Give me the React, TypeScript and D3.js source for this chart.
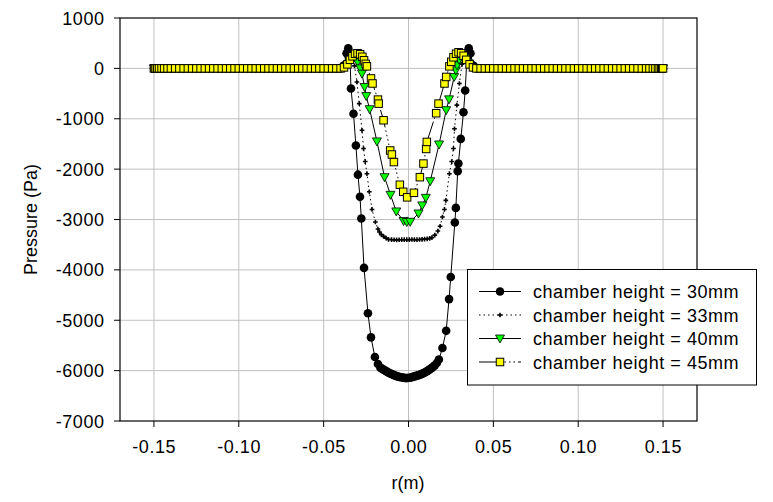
import React from 'react';
import * as d3 from 'd3';

// ---- data ----
const flatLeftR = [-0.1500,-0.1495,-0.1490,-0.1480,-0.1470,-0.1455,-0.1440,-0.1420,-0.1400,-0.1375,-0.1350,-0.1325,-0.1300,-0.1275,-0.1250,-0.1225,-0.1200,-0.1175,-0.1150,-0.1125,-0.1100,-0.1075,-0.1050,-0.1025,-0.1000,-0.0975,-0.0950,-0.0925,-0.0900,-0.0875,-0.0850,-0.0825,-0.0800,-0.0775,-0.0750,-0.0725,-0.0700,-0.0675,-0.0650,-0.0625,-0.0600,-0.0575,-0.0550,-0.0525,-0.0500,-0.0475,-0.0450,-0.0425,-0.0400];
const flatRightR = [0.0400,0.0425,0.0450,0.0475,0.0500,0.0525,0.0550,0.0575,0.0600,0.0625,0.0650,0.0675,0.0700,0.0725,0.0750,0.0775,0.0800,0.0825,0.0850,0.0875,0.0900,0.0925,0.0950,0.0975,0.1000,0.1025,0.1050,0.1075,0.1100,0.1125,0.1150,0.1175,0.1200,0.1225,0.1250,0.1275,0.1300,0.1325,0.1350,0.1375,0.1400,0.1420,0.1440,0.1455,0.1470,0.1480,0.1490,0.1495,0.1500];
const flatP = [0,0,0,0,0,0,0,0,0,0,0,0,0,0,0,0,0,0,0,0,0,0,0,0,0,0,0,0,0,0,0,0,0,0,0,0,0,0,0,0,0,0,0,0,0,0,0,0,0];

const r30 = [-0.0380,-0.0365,-0.0355,-0.0345,-0.0339,-0.0324,-0.0310,-0.0298,-0.0286,-0.0278,-0.0262,-0.0239,-0.0221,-0.0198,-0.0180,-0.0166,-0.0155,-0.0145,-0.0135,-0.0125,-0.0115,-0.0105,-0.0095,-0.0085,-0.0075,-0.0065,-0.0055,-0.0045,-0.0035,-0.0025,-0.0014,-0.0005,0.0005,0.0015,0.0025,0.0035,0.0045,0.0055,0.0065,0.0075,0.0085,0.0095,0.0105,0.0115,0.0125,0.0135,0.0145,0.0155,0.0167,0.0179,0.0200,0.0222,0.0239,0.0249,0.0273,0.0279,0.0290,0.0294,0.0308,0.0324,0.0334,0.0345,0.0355,0.0365,0.0380];
const p30 = [60,300,400,250,-400,-900,-1530,-2110,-2550,-2980,-3960,-4860,-5340,-5730,-5870,-5940,-5965,-5985,-6005,-6025,-6045,-6060,-6075,-6090,-6105,-6115,-6125,-6132,-6138,-6143,-6148,-6145,-6140,-6135,-6125,-6115,-6105,-6095,-6085,-6070,-6055,-6040,-6020,-6000,-5975,-5950,-5925,-5895,-5850,-5780,-5550,-5210,-4580,-4140,-3060,-2770,-2040,-1890,-1400,-870,-440,250,400,300,60];

const r33 = [-0.0380,-0.0360,-0.0345,-0.0330,-0.0318,-0.0304,-0.0290,-0.0274,-0.0265,-0.0255,-0.0245,-0.0231,-0.0215,-0.0195,-0.0180,-0.0171,-0.0160,-0.0147,-0.0132,-0.0118,-0.0100,-0.0085,-0.0070,-0.0055,-0.0040,-0.0025,-0.0010,0.0005,0.0020,0.0035,0.0050,0.0065,0.0080,0.0095,0.0110,0.0125,0.0138,0.0155,0.0173,0.0186,0.0200,0.0212,0.0220,0.0241,0.0255,0.0265,0.0271,0.0285,0.0300,0.0315,0.0330,0.0345,0.0360,0.0380];
const p33 = [40,200,330,250,50,-270,-700,-1230,-1590,-1850,-2090,-2450,-2800,-3050,-3190,-3250,-3300,-3335,-3370,-3395,-3400,-3402,-3405,-3402,-3400,-3400,-3400,-3400,-3398,-3400,-3400,-3398,-3395,-3390,-3385,-3375,-3360,-3310,-3230,-3135,-2950,-2800,-2620,-2090,-1850,-1590,-1200,-730,-300,80,280,330,200,40];

const r40 = [-0.0370,-0.0350,-0.0330,-0.0315,-0.0300,-0.0284,-0.0274,-0.0259,-0.0249,-0.0229,-0.0186,-0.0141,-0.0106,-0.0072,-0.0029,-0.0010,0.0010,0.0059,0.0081,0.0102,0.0128,0.0180,0.0222,0.0239,0.0269,0.0279,0.0286,0.0298,0.0315,0.0335,0.0355,0.0375];
const p40 = [30,150,230,220,125,0,-105,-370,-550,-810,-1450,-2160,-2510,-2840,-3030,-3050,-3045,-2880,-2720,-2570,-2240,-1510,-830,-615,-170,-40,60,170,240,200,100,20];

const r45 = [-0.0380,-0.0360,-0.0345,-0.0330,-0.0315,-0.0300,-0.0285,-0.0272,-0.0262,-0.0252,-0.0245,-0.0221,-0.0212,-0.0180,-0.0176,-0.0147,-0.0108,-0.0098,-0.0086,-0.0051,-0.0031,-0.0008,0.0032,0.0067,0.0088,0.0104,0.0108,0.0163,0.0177,0.0212,0.0222,0.0241,0.0252,0.0265,0.0280,0.0295,0.0310,0.0325,0.0340,0.0360,0.0380];
const p45 = [20,80,170,240,290,300,280,230,160,90,40,-200,-300,-620,-700,-1030,-1630,-1710,-1860,-2310,-2450,-2560,-2470,-2160,-1890,-1600,-1460,-890,-700,-300,-170,40,130,220,290,320,300,250,170,80,20];

const seriesNames = ['chamber height = 30mm', 'chamber height = 33mm', 'chamber height = 40mm', 'chamber height = 45mm'];
const xTicks = [-0.15, -0.10, -0.05, 0.0, 0.05, 0.10, 0.15];
const yTicks = [1000, 0, -1000, -2000, -3000, -4000, -5000, -6000, -7000];

type Pt = [number, number];
const build = (core: number[], vals: number[]): Pt[] => {
  const r = [...flatLeftR, ...core, ...flatRightR];
  const p = [...flatP, ...vals, ...flatP];
  return r.map((v, i) => [v, p[i]] as Pt);
};

const series = [
  { name: seriesNames[0], data: build(r30, p30), dash: undefined as string | undefined, marker: 'circle' },
  { name: seriesNames[1], data: build(r33, p33), dash: '1.5 3', marker: 'cross' },
  { name: seriesNames[2], data: build(r40, p40), dash: undefined, marker: 'tri' },
  { name: seriesNames[3], data: build(r45, p45), dash: '18 3 1.5 3 1.5 3 1.5 3 1.5 3', marker: 'square' },
];

const FONT = 'Arial, "Liberation Sans", sans-serif';

function Marker({ type, cx, cy }: { type: string; cx: number; cy: number }) {
  if (type === 'circle') return <circle cx={cx} cy={cy} r={4.3} fill="#000" />;
  if (type === 'cross') {
    const d = d3.symbol().type(d3.symbolCross).size(12)() as string;
    return <path d={d} transform={`translate(${cx},${cy})`} fill="#000" />;
  }
  if (type === 'tri')
    return <path d="M-4.5,-3.5L4.5,-3.5L0,4.5Z" transform={`translate(${cx},${cy})`} fill="#00ff00" stroke="#000" strokeWidth={0.8} />;
  return <rect x={cx - 3.75} y={cy - 3.75} width={7.5} height={7.5} fill="#ffff00" stroke="#000" strokeWidth={1} />;
}

export default function App() {
  const W = 773, H = 502;
  const left = 120, right = 697, top = 18, bottom = 421;
  const x = d3.scaleLinear().domain([-0.17, 0.17]).range([left, right]);
  const y = d3.scaleLinear().domain([-7000, 1000]).range([bottom, top]);
  const line = d3.line<Pt>().x(d => x(d[0])).y(d => y(d[1]));

  const lgX = 467.5, lgY = 269.5, lgW = 289, lgH = 115.5;
  const rowY = [291.5, 315, 338.5, 362];
  const LS = 0.55;

  return (
    <svg width={W} height={H} style={{ position: 'absolute', left: 0, top: 0, background: '#fff' }} fontFamily={FONT}>
      <rect x={0} y={0} width={W} height={H} fill="#fff" />
      {/* grid */}
      {xTicks.map(t => (
        <line key={'gx' + t} x1={x(t)} x2={x(t)} y1={top} y2={bottom} stroke="#c0c0c0" strokeWidth={1} />
      ))}
      {yTicks.filter(t => t !== 1000 && t !== -7000).map(t => (
        <line key={'gy' + t} x1={left} x2={right} y1={y(t)} y2={y(t)} stroke="#c0c0c0" strokeWidth={1} />
      ))}
      {/* frame */}
      <rect x={left} y={top} width={right - left} height={bottom - top} fill="none" stroke="#000" strokeWidth={1.2} />
      {/* ticks */}
      {xTicks.map(t => (
        <g key={'tx' + t}>
          <line x1={x(t)} x2={x(t)} y1={bottom} y2={bottom + 6} stroke="#000" strokeWidth={1} />
          <text x={x(t) + LS / 2} y={453} textAnchor="middle" fontSize={18} letterSpacing={LS} fill="#000">{t.toFixed(2)}</text>
        </g>
      ))}
      {yTicks.map(t => (
        <g key={'ty' + t}>
          <line x1={left - 6} x2={left} y1={y(t)} y2={y(t)} stroke="#000" strokeWidth={1} />
          <text x={104 + LS} y={y(t) + 6.5} textAnchor="end" fontSize={18} letterSpacing={LS} fill="#000">{t}</text>
        </g>
      ))}
      <text x={408} y={489} textAnchor="middle" fontSize={18} fill="#000">r(m)</text>
      <text transform={`translate(37,219.5) rotate(-90)`} textAnchor="middle" fontSize={18} fill="#000">Pressure (Pa)</text>
      {/* series */}
      {series.map((s, si) => (
        <g key={'s' + si}>
          <path d={line(s.data) as string} fill="none" stroke="#000" strokeWidth={1} strokeDasharray={s.dash} />
          {s.data.map((d, i) => (
            <Marker key={i} type={s.marker} cx={x(d[0])} cy={y(d[1])} />
          ))}
        </g>
      ))}
      {/* legend */}
      <rect x={lgX} y={lgY} width={lgW} height={lgH} fill="#fff" stroke="#000" strokeWidth={1} />
      {series.map((s, i) => (
        <g key={'lg' + i}>
          <line x1={479} x2={521} y1={rowY[i]} y2={rowY[i]} stroke="#000" strokeWidth={1} strokeDasharray={s.dash} />
          <Marker type={s.marker} cx={500} cy={rowY[i]} />
          <text x={533} y={rowY[i] + 6.5} fontSize={18} letterSpacing={LS} fill="#000">{s.name}</text>
        </g>
      ))}
    </svg>
  );
}
